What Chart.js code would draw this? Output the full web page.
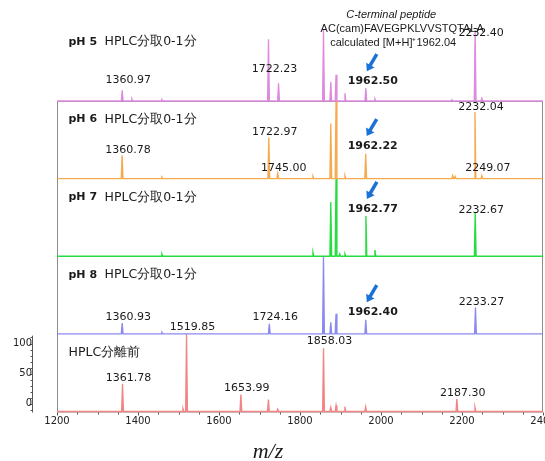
<!DOCTYPE html>
<html>
<head>
<meta charset="utf-8">
<script src="https://cdn.jsdelivr.net/npm/chart.js"></script>
<style>
  html, body { margin: 0; padding: 0; background: #fff; }
  #wrap { width: 545px; height: 461px; }
</style>
</head>
<body>
<div id="wrap"><canvas id="spec" width="545" height="461"></canvas></div>
<script>
(function () {
  "use strict";

  // ---- data ----
  var PANELS = ["pH 5", "pH 6", "pH 7", "pH 8", "HPLC分離前"];
  var PANEL_NOTE = "HPLC分取0-1分"; // follows the four pH names
  var COLORS = ["#de8ade", "#f6aa4e", "#26dc40", "#8a8af0", "#f28484"];

  // peak m/z and heights; pH panels read as % of the panel (tall ones clip at 100)
  var PH5_MZ = [1360.97, 1385, 1459, 1722.23, 1747, 1858, 1876, 1889, 1911, 1962.50, 1985, 2175, 2232.40, 2249];
  var PH5_INT = [15, 3, 2, 87, 25, 100, 27, 37, 11, 18, 3, 2, 100, 4];
  var PH6_MZ = [1360.78, 1459, 1722.97, 1745.00, 1832, 1876, 1889, 1911, 1962.22, 2177, 2183, 2232.04, 2249.07];
  var PH6_INT = [30, 2, 53, 7, 3, 71, 100, 4, 32, 4, 3, 86, 4];
  var PH7_MZ = [1459, 1832, 1876, 1889, 1898, 1911, 1962.77, 1985, 2232.67];
  var PH7_INT = [3, 5, 70, 100, 3, 3, 52, 8, 56];
  var PH8_MZ = [1360.93, 1459, 1724.16, 1858, 1876, 1889, 1962.40, 2233.27];
  var PH8_INT = [14, 2, 13, 100, 15, 26, 18, 34];
  // before separation: read on its own 0-100 axis, the baseline sits below 0
  var RAW_MZ = [1361.78, 1511, 1519.85, 1653.99, 1722, 1745, 1858.03, 1876, 1889, 1911, 1962, 2187.30, 2232];
  var RAW_INT = [33, -8, 116, 15, 7, -9, 92, -6, -3, -5, -5, 8, -6];

  var BASELINE = [0, 0, 0, 0, -13];
  var Y_MIN = [0, 0, 0, 0, -13];
  var Y_MAX = [100, 100, 100, 100, 116];
  var RAW_TICKS = [0, 50, 100];

  // labelled peaks: [panel, label]; level = height of the label on that panel's axis
  var PEAK_LABELS = [
    [0, "1360.97"], [0, "1722.23"], [0, "2232.40"],
    [1, "1360.78"], [1, "1722.97"], [1, "1745.00"], [1, "2232.04"], [1, "2249.07"],
    [2, "2232.67"],
    [3, "1360.93"], [3, "1724.16"], [3, "2233.27"],
    [4, "1361.78"], [4, "1519.85"], [4, "1653.99"], [4, "1858.03"], [4, "2187.30"]
  ];
  var LABEL_LEVEL = [30, 45, 96, 37, 60, 13, 92, 13, 59, 22, 21, 41, 42, 127, 25, 104, 17];

  // C-terminal peptide found in each pH fraction (bold + arrow)
  var TARGETS = ["1962.50", "1962.22", "1962.77", "1962.40"];
  var TARGET_LEVEL = [28, 42, 61, 28];
  var NOTE_LINES = ["C-terminal peptide", "AC(cam)FAVEGPKLVVSTQTALA", "calculated [M+H]\u207A1962.04"];

  var SERIES = [[PH5_MZ, PH5_INT], [PH6_MZ, PH6_INT], [PH7_MZ, PH7_INT], [PH8_MZ, PH8_INT], [RAW_MZ, RAW_INT]];
  var HALF = 2.2; // half width of a drawn peak, in m/z

  function spectrum(mz, ints, base) {
    var pts = [{ x: 1200, y: base }];
    mz.forEach(function (m, i) {
      pts.push({ x: m - HALF, y: base }, { x: m, y: ints[i] }, { x: m + HALF, y: base });
    });
    pts.push({ x: 2400, y: base });
    return pts;
  }

  var SANS = "'DejaVu Sans', sans-serif";
  var HELV = "'Liberation Sans', Arial, sans-serif";

  // frame, axes extras, labels and arrows
  var overlay = {
    id: "overlay",
    beforeDatasetsDraw: function (chart) {
      var ctx = chart.ctx, area = chart.chartArea, xs = chart.scales.x;
      var top = chart.scales.y1.top;
      ctx.save();
      ctx.strokeStyle = "#8c8c8c";
      ctx.lineWidth = 1;
      ctx.beginPath();
      ctx.moveTo(area.left + 0.5, top + 0.5);
      ctx.lineTo(area.left + 0.5, area.bottom + 0.5);
      ctx.lineTo(area.right - 0.5, area.bottom + 0.5);
      ctx.lineTo(area.right - 0.5, top + 0.5);
      ctx.closePath();
      ctx.stroke();
      // small x ticks every 50
      ctx.strokeStyle = "#555";
      ctx.beginPath();
      for (var m = 1200; m <= 2400; m += 50) {
        var px = Math.round(xs.getPixelForValue(m)) + 0.5;
        ctx.moveTo(px, area.bottom + 1);
        ctx.lineTo(px, area.bottom + (m % 200 === 0 ? 4 : 3));
      }
      ctx.stroke();
      // separate intensity axis for the unseparated sample
      var ys = chart.scales.y4, ax = 32.5;
      ctx.beginPath();
      ctx.moveTo(ax, ys.getPixelForValue(113));
      ctx.lineTo(ax, area.bottom + 1);
      for (var v = -10; v <= 110; v += 10) {
        var py = Math.round(ys.getPixelForValue(v)) + 0.5;
        ctx.moveTo(ax, py);
        ctx.lineTo(ax - (v % 50 === 0 ? 3 : 2), py);
      }
      ctx.stroke();
      ctx.fillStyle = "#222";
      ctx.font = "10px " + SANS;
      ctx.textAlign = "right";
      ctx.textBaseline = "middle";
      RAW_TICKS.forEach(function (t) {
        ctx.fillText(String(t), ax - 0.5, ys.getPixelForValue(t));
      });
      ctx.restore();
    },
    afterDatasetsDraw: function (chart) {
      var ctx = chart.ctx, xs = chart.scales.x, area = chart.chartArea;
      ctx.save();
      ctx.textBaseline = "middle";
      ctx.fillStyle = "#1a1a1a";

      // peak labels
      ctx.textAlign = "center";
      ctx.font = "11px " + SANS;
      PEAK_LABELS.forEach(function (l, i) {
        var ys = chart.scales["y" + l[0]];
        ctx.fillText(l[1], xs.getPixelForValue(parseFloat(l[1])) + 6, ys.getPixelForValue(LABEL_LEVEL[i]));
      });

      // target peptide labels and arrows
      TARGETS.forEach(function (t, i) {
        var ys = chart.scales["y" + i];
        var cx = xs.getPixelForValue(parseFloat(t)) + 7;
        var cy = ys.getPixelForValue(TARGET_LEVEL[i]);
        ctx.font = "bold 11px " + SANS;
        ctx.fillStyle = "#1a1a1a";
        ctx.fillText(t, cx, cy);
        var tip = [cx - 6, cy - 10], tail = [cx + 4, cy - 27];
        var dx = tip[0] - tail[0], dy = tip[1] - tail[1];
        var len = Math.sqrt(dx * dx + dy * dy), ux = dx / len, uy = dy / len;
        var bx = tip[0] - 7 * ux, by = tip[1] - 7 * uy;
        ctx.strokeStyle = "#1b72d6";
        ctx.fillStyle = "#1b72d6";
        ctx.lineWidth = 3.5;
        ctx.beginPath();
        ctx.moveTo(tail[0], tail[1]);
        ctx.lineTo(bx + ux, by + uy);
        ctx.stroke();
        ctx.beginPath();
        ctx.moveTo(tip[0], tip[1]);
        ctx.lineTo(bx - 4.8 * uy, by + 4.8 * ux);
        ctx.lineTo(bx + 4.8 * uy, by - 4.8 * ux);
        ctx.closePath();
        ctx.fill();
      });

      // panel names
      ctx.fillStyle = "#1a1a1a";
      ctx.textAlign = "left";
      PANELS.forEach(function (p, i) {
        var ys = chart.scales["y" + i];
        var y = ys.getPixelForValue(Y_MIN[i]) - 59;
        if (i < 4) {
          ctx.font = "bold 11px " + SANS;
          ctx.fillText(p, 68.5, y);
          ctx.font = "12.5px " + SANS;
          ctx.fillText(PANEL_NOTE, 104.5, y);
        } else {
          ctx.font = "12.5px " + SANS;
          ctx.fillText(p, 68.5, y);
        }
      });

      // peptide note above the pH 5 trace
      var nx = xs.getPixelForValue(2040);
      var noteDx = [-6, 5, -4];
      ctx.textAlign = "center";
      NOTE_LINES.forEach(function (s, i) {
        ctx.font = (i === 0 ? "italic " : "") + "11px " + HELV;
        ctx.fillText(s, nx + noteDx[i], 15 + i * 14.2);
      });

      // axis title
      ctx.font = "italic 22px 'Liberation Serif', 'Times New Roman', serif";
      ctx.textBaseline = "alphabetic";
      ctx.fillText("m/z", 268, area.bottom + 46.5);
      ctx.restore();
    }
  };

  var datasets = SERIES.map(function (s, i) {
    return {
      label: PANELS[i],
      data: spectrum(s[0], s[1], BASELINE[i]),
      yAxisID: "y" + i,
      borderColor: COLORS[i],
      backgroundColor: COLORS[i],
      borderWidth: 1.3,
      pointRadius: 0,
      tension: 0,
      fill: "start",
      clip: false
    };
  });

  function panelScale(i, weight) {
    return {
      type: "linear",
      position: "left",
      stack: "panels",
      stackWeight: weight,
      min: Y_MIN[i],
      max: Y_MAX[i],
      display: false
    };
  }

  // left stacked axes are placed top-down from the last one defined
  var scales = {
    x: {
      type: "linear",
      min: 1200,
      max: 2400,
      grid: { display: false, drawTicks: false },
      border: { display: false },
      ticks: {
        stepSize: 200,
        padding: 4,
        color: "#222",
        font: { family: SANS, size: 10 },
        callback: function (v) { return String(v); }
      },
      // end labels may overhang the plot (2400 is cut at the edge)
      afterFit: function (scale) {
        scale.height = 16;
        scale.paddingLeft = 0;
        scale.paddingRight = 0;
      }
    },
    y4: panelScale(4, 77.6),
    y3: panelScale(3, 77.6),
    y2: panelScale(2, 77.6),
    y1: panelScale(1, 77.6),
    y0: panelScale(0, 71)
  };

  Chart.register(overlay);

  new Chart(document.getElementById("spec"), {
    type: "line",
    data: { datasets: datasets },
    options: {
      responsive: false,
      animation: false,
      devicePixelRatio: 1,
      layout: { padding: { top: 30, left: 57, right: 2, bottom: 33.5 } },
      plugins: { legend: { display: false }, tooltip: { enabled: false } },
      scales: scales
    }
  });
})();
</script>
</body>
</html>
